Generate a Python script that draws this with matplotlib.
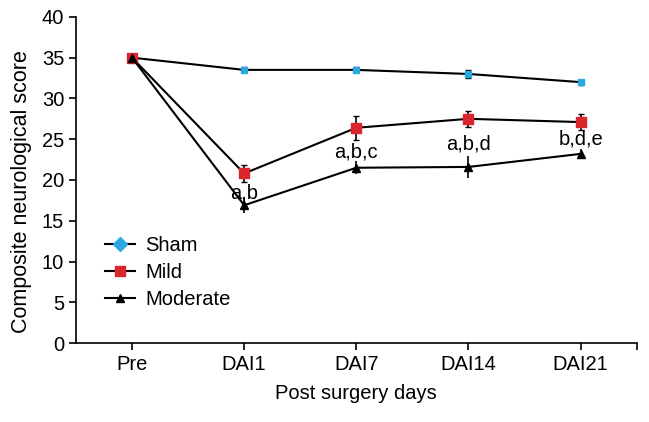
import matplotlib
matplotlib.use("Agg")
import matplotlib.pyplot as plt
from matplotlib.lines import Line2D

plt.rcParams['font.family'] = ['Liberation Sans', 'DejaVu Sans']

days = ["Pre", "DAI1", "DAI7", "DAI14", "DAI21"]

sham = [35.0, 33.5, 33.5, 33.0, 32.0]
sham_err = [0.2, 0.3, 0.3, 0.5, 0.3]
mild = [35.0, 20.8, 26.4, 27.5, 27.1]
mild_err = [0.2, 1.0, 1.5, 1.0, 1.0]
moderate = [35.0, 16.9, 21.5, 21.6, 23.2]
moderate_err = [0.2, 0.9, 0.8, 1.3, 0.6]

labels = ["", "a,b", "a,b,c", "a,b,d", "b,d,e"]
label_y = [0, 18.4, 23.4, 24.4, 25.0]

sham_color = "#2aa9e0"
mild_color = "#d9262c"
fs = 14.5

fig = plt.figure(figsize=(6.49, 4.22), dpi=100)
ax = fig.add_axes([0.117, 0.187, 0.864, 0.773])
x = list(range(len(days)))

ax.errorbar(x, sham, yerr=sham_err, color="black", lw=1.5, marker="s", ms=4,
            mfc=sham_color, mec=sham_color, ecolor="black", elinewidth=1.2,
            capsize=2, zorder=3)
ax.errorbar(x, mild, yerr=mild_err, color="black", lw=1.5, marker="s", ms=6.5,
            mfc=mild_color, mec=mild_color, ecolor="black", elinewidth=1.2,
            capsize=2.5, zorder=3)
ax.errorbar(x, moderate, yerr=moderate_err, color="black", lw=1.5, marker="^",
            ms=5.5, mfc="black", mec="black", ecolor="black", elinewidth=1.2,
            capsize=0, zorder=3)

for xi, t, yi in zip(x, labels, label_y):
    if t:
        ax.text(xi, yi, t, ha="center", va="center", fontsize=fs)

ax.set_xlim(-0.5, 4.5)
ax.set_ylim(0, 40)
ax.set_xticks(x + [4.5])
ax.set_xticklabels(days + [""])
ax.set_yticks(range(0, 41, 5))
ax.tick_params(labelsize=fs, direction="out", length=5, width=1.2)
for s in ["top", "right"]:
    ax.spines[s].set_visible(False)
for s in ["left", "bottom"]:
    ax.spines[s].set_linewidth(1.2)

ax.set_xlabel("Post surgery days", fontsize=fs, labelpad=7)
ax.set_ylabel("Composite neurological score", fontsize=15.5)
ax.yaxis.set_label_coords(-0.078, 0.465)

handles = [
    Line2D([], [], color="black", lw=1.5, marker="D", ms=7, mfc=sham_color, mec=sham_color),
    Line2D([], [], color="black", lw=1.5, marker="s", ms=7, mfc=mild_color, mec=mild_color),
    Line2D([], [], color="black", lw=1.5, marker="^", ms=6, mfc="black", mec="black"),
]
ax.legend(handles, ["Sham", "Mild", "Moderate"], loc="upper left",
          bbox_to_anchor=(0.02, 0.385), frameon=False, fontsize=fs,
          handlelength=1.5, handletextpad=0.5, labelspacing=0.4)

fig.savefig("out.png", dpi=100)
